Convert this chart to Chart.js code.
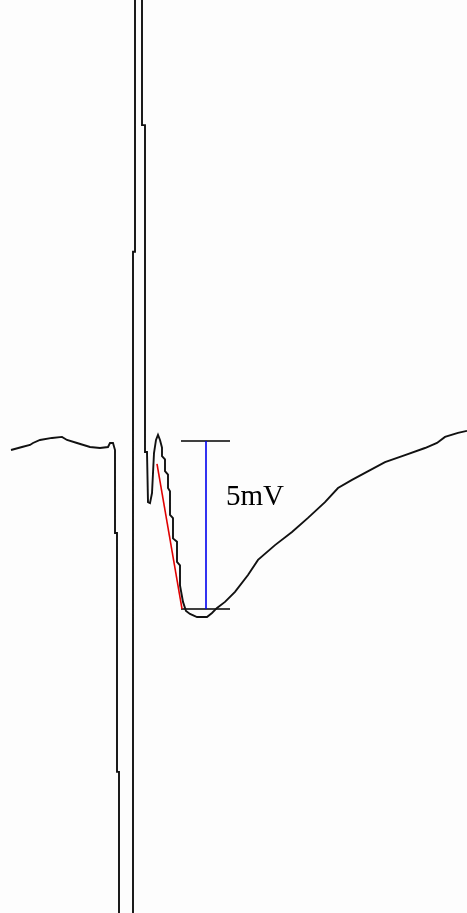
<!DOCTYPE html>
<html>
<head>
<meta charset="utf-8">
<script src="https://cdn.jsdelivr.net/npm/chart.js@4/dist/chart.umd.min.js"></script>
<style>
  html, body { margin: 0; padding: 0; background: #fdfdfd; }
  #wrap { width: 467px; height: 913px; }
</style>
</head>
<body>
<div id="wrap"><canvas id="ecg" width="467" height="913"></canvas></div>
<script>
// registro (tempo em ms, amplitude em mV)
const tempo = [11, 22, 30, 33, 40, 52, 62, 67, 77, 90, 100, 108, 110, 113,
  115, 115, 117, 117, 119, 119, 133, 133, 135, 135, 142, 142, 145, 145, 147,
  148, 150, 152, 154, 156, 158, 160, 162, 162, 165, 165, 168, 168, 170, 170, 173, 173, 177, 177, 180, 180, 183,
  186, 190, 197, 207, 212, 217, 225, 235, 248, 258, 275, 292, 308, 325, 338,
  352, 365, 385, 405, 425, 437, 445, 458, 467];
const tensao = [-0.27, -0.18, -0.12, -0.06, 0.03, 0.09, 0.12, 0.03, -0.06, -0.18, -0.21, -0.18, -0.06, -0.06,
  -0.27, -2.74, -2.74, -9.85, -9.85, -15, -15, 5.63, 5.63, 14, 14, 9.40, 9.40, -0.33, -0.33,
  -1.82, -1.85, -1.55, -0.36, 0.03, 0.18, 0.03, -0.20, -0.45, -0.55, -0.90, -1.00, -1.40, -1.50, -2.20, -2.30, -2.90, -3.00, -3.60, -3.70, -4.30, -4.79,
  -5.06, -5.15, -5.24, -5.24, -5.12, -4.97, -4.79, -4.49, -3.99, -3.54, -3.10, -2.71, -2.29, -1.82, -1.40,
  -1.16, -0.95, -0.63, -0.42, -0.21, -0.06, 0.12, 0.24, 0.30];

// reta de inclinação (vermelha)
const inclinacaoX = [157, 182];
const inclinacaoY = [-0.68, -5.0];

// régua de amplitude: 5 mV
const reguaX = 206;
const reguaTopo = 0;
const reguaBase = -5;
const marcaX = [181, 230];
const rotulo = '5mV';
const rotuloX = 226;
const rotuloY = -1.9;

const pts = (xs, ys) => xs.map((x, i) => ({ x: x, y: ys[i] }));

const rotuloPlugin = {
  id: 'rotulo',
  afterDatasetsDraw(chart) {
    const { ctx, scales } = chart;
    ctx.save();
    ctx.fillStyle = '#000';
    ctx.font = '29px "Liberation Serif", "Times New Roman", serif';
    ctx.textBaseline = 'alphabetic';
    ctx.fillText(rotulo, scales.x.getPixelForValue(rotuloX), scales.y.getPixelForValue(rotuloY));
    ctx.restore();
  }
};

const ctx = document.getElementById('ecg').getContext('2d');
new Chart(ctx, {
  type: 'line',
  data: {
    datasets: [{
      data: pts(tempo, tensao),
      borderColor: '#111',
      borderWidth: 1.9
    }, {
      data: pts(inclinacaoX, inclinacaoY),
      borderColor: '#e00000',
      borderWidth: 1.6
    }, {
      data: pts([reguaX, reguaX], [reguaTopo, reguaBase]),
      borderColor: '#0000ee',
      borderWidth: 1.6
    }, {
      data: pts(marcaX, [reguaTopo, reguaTopo]),
      borderColor: '#000',
      borderWidth: 1.6
    }, {
      data: pts(marcaX, [reguaBase, reguaBase]),
      borderColor: '#000',
      borderWidth: 1.6
    }]
  },
  options: {
    responsive: false,
    animation: false,
    layout: { padding: 0 },
    elements: { point: { radius: 0 }, line: { tension: 0, fill: false } },
    scales: {
      x: { type: 'linear', min: 0, max: 467, display: false },
      y: { type: 'linear', min: -14.05, max: 13.125, display: false }
    },
    plugins: { legend: { display: false }, tooltip: { enabled: false } }
  },
  plugins: [rotuloPlugin]
});
</script>
</body>
</html>
